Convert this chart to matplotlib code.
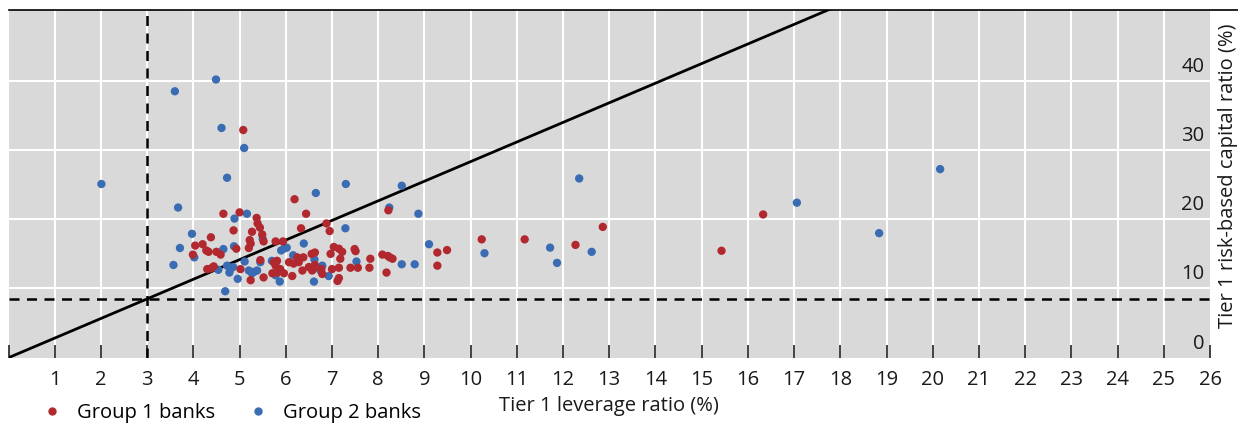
import matplotlib
matplotlib.use("Agg")
import matplotlib.pyplot as plt
from matplotlib.lines import Line2D

plt.rcParams["font.family"] = ["Open Sans", "DejaVu Sans"]

# Group 1 banks: (leverage ratio, risk-based ratio), %
g1_lev = [3.99, 4.04, 4.20, 4.28, 4.33, 4.30, 4.38, 4.38, 4.44, 4.50, 4.59, 4.65,
          4.87, 4.93, 5.00, 5.02, 5.08, 5.20, 5.22, 5.24, 5.24, 5.27, 5.37, 5.39,
          5.44, 5.45, 5.49, 5.52, 5.52, 5.71, 5.74, 5.78, 5.78, 5.81, 5.81, 5.88,
          5.94, 5.96, 6.07, 6.14, 6.17, 6.19, 6.25, 6.28, 6.33, 6.36, 6.38, 6.44,
          6.50, 6.56, 6.57, 6.59, 6.63, 6.63, 6.77, 6.79, 6.88, 6.95, 6.97, 7.00,
          7.04, 7.15, 7.15, 7.15, 7.12, 7.18, 7.22, 7.40, 7.49, 7.51, 7.56, 7.81,
          7.83, 8.09, 8.18, 8.21, 8.22, 8.25, 8.31, 9.28, 9.28, 9.49, 10.24, 11.17,
          12.27, 12.86, 15.43, 16.33]
g1_rbc = [14.9, 16.2, 16.4, 15.5, 15.3, 12.8, 12.9, 17.4, 13.2, 15.3, 14.9, 20.8,
          18.4, 15.75, 21.0, 12.8, 32.9, 15.85, 17.0, 16.5, 11.2, 18.2, 20.2, 19.4,
          18.8, 14.1, 17.8, 16.8, 11.6, 12.2, 13.8, 16.8, 13.3, 14.0, 12.3, 12.8,
          16.8, 12.2, 13.8, 11.8, 13.6, 22.9, 14.5, 13.8, 18.7, 12.6, 14.5, 20.8,
          13.1, 15.0, 12.6, 12.8, 15.2, 13.4, 12.8, 12.1, 19.4, 18.3, 15.0, 12.8,
          16.0, 15.75, 13.0, 11.5, 11.1, 14.3, 15.3, 13.0, 15.7, 15.4, 13.0, 13.0,
          14.3, 14.9, 12.3, 14.7, 21.3, 14.5, 14.3, 15.2, 13.3, 15.55, 17.1, 17.1,
          16.3, 18.9, 15.45, 20.7]

# Group 2 banks
g2_lev = [2.01, 3.57, 3.60, 3.67, 3.71, 3.97, 4.02, 4.49, 4.54, 4.61, 4.65, 4.69,
          4.73, 4.73, 4.80, 4.78, 4.86, 4.88, 4.89, 4.96, 5.10, 5.11, 5.16, 5.20,
          5.31, 5.38, 5.27, 5.45, 5.50, 5.70, 5.78, 5.87, 5.90, 5.96, 6.02, 6.16,
          6.39, 6.62, 6.61, 6.65, 6.75, 6.79, 6.93, 7.29, 7.30, 7.53, 8.24, 8.51,
          8.51, 8.79, 8.87, 9.10, 10.30, 11.72, 11.87, 12.35, 12.62, 17.06, 18.84,
          20.16]
g2_rbc = [25.1, 13.4, 38.5, 21.7, 15.85, 17.9, 14.5, 40.2, 12.7, 33.2, 15.7, 9.6,
          26.0, 13.3, 12.8, 12.3, 13.1, 16.1, 20.1, 11.4, 30.3, 13.9, 20.8, 12.6,
          12.4, 12.6, 12.2, 13.8, 17.2, 14.0, 11.9, 11.0, 15.5, 15.75, 15.9, 14.8,
          16.5, 14.2, 11.0, 23.8, 12.6, 13.3, 11.8, 18.7, 25.1, 13.9, 21.7, 24.85,
          13.5, 13.5, 20.8, 16.4, 15.1, 15.9, 13.7, 25.9, 15.3, 22.4, 18.0, 27.25]

# Regulatory minima
min_leverage = 3.0
min_rbc = 8.5

x_ticks = list(range(0, 27))
y_ticks = [0, 10, 20, 30, 40]

RED = "#b1282e"
BLUE = "#3a6cb3"
BG = "#d9d9d9"
INK = "#1a1a1a"

W, H = 1238, 426
fig = plt.figure(figsize=(W / 100, H / 100), dpi=100)
ax = fig.add_axes([8.5 / W, 1 - 357.7 / H, (1210 - 8.5) / W, (357.7 - 10.3) / H])
ax.set_facecolor(BG)
ax.set_xlim(0, 26)
ax.set_ylim(0, 50.2)

# grid
for xv in x_ticks[1:-1]:
    ax.axvline(xv, color="white", lw=1.5, zorder=1)
for yv in y_ticks[1:]:
    ax.axhline(yv, color="white", lw=1.5, zorder=1)

for s in ax.spines.values():
    s.set_visible(False)

ax.set_xticks(x_ticks)
ax.set_xticklabels([""] + [str(v) for v in x_ticks[1:]], fontsize=14.5, color=INK)
ax.tick_params(axis="x", direction="in", length=9.5, width=1.2, color="#222222",
               pad=9)
ax.set_yticks([])

# right-hand value labels sitting above the gridlines
for yv in y_ticks:
    ax.annotate(str(yv), xy=(26, yv), xytext=(-4, 3), textcoords="offset points",
                ha="right", va="bottom", fontsize=14.5, color=INK, zorder=5)

# thresholds
ax.axvline(min_leverage, color="black", lw=1.8, ls=(0, (4, 3)), zorder=3)
ax.axhline(min_rbc, color="black", lw=1.8, ls=(0, (4, 3)), zorder=3)
slope = min_rbc / min_leverage
ax.plot([0, 26], [0, 26 * slope], color="black", lw=2.0, zorder=3,
        solid_capstyle="butt")

ax.scatter(g2_lev, g2_rbc, s=36, color=BLUE, edgecolors="none", zorder=4)
ax.scatter(g1_lev, g1_rbc, s=36, color=RED, edgecolors="none", zorder=4)

ax.set_xlabel("Tier 1 leverage ratio (%)", fontsize=14.5, labelpad=4, color=INK)
fig.text(1228 / W, 1 - 176 / H, "Tier 1 risk-based capital ratio (%)", rotation=90,
         ha="center", va="center", fontsize=14.5, color=INK)

# top rule
fig.add_artist(Line2D([9 / W, 1.0], [1 - 10.3 / H] * 2, color="black", lw=1.2,
                      transform=fig.transFigure))

handles = [
    Line2D([], [], ls="none", marker="o", ms=5, color=RED, label="Group 1 banks"),
    Line2D([], [], ls="none", marker="o", ms=5, color=BLUE, label="Group 2 banks"),
]
fig.legend(handles=handles, loc="lower left", bbox_to_anchor=(34 / W, -0.012),
           ncol=2, frameon=False, fontsize=14.5, handletextpad=0.75,
           columnspacing=1.6, handlelength=1.0, borderaxespad=0)

fig.savefig("out.png", dpi=100)
